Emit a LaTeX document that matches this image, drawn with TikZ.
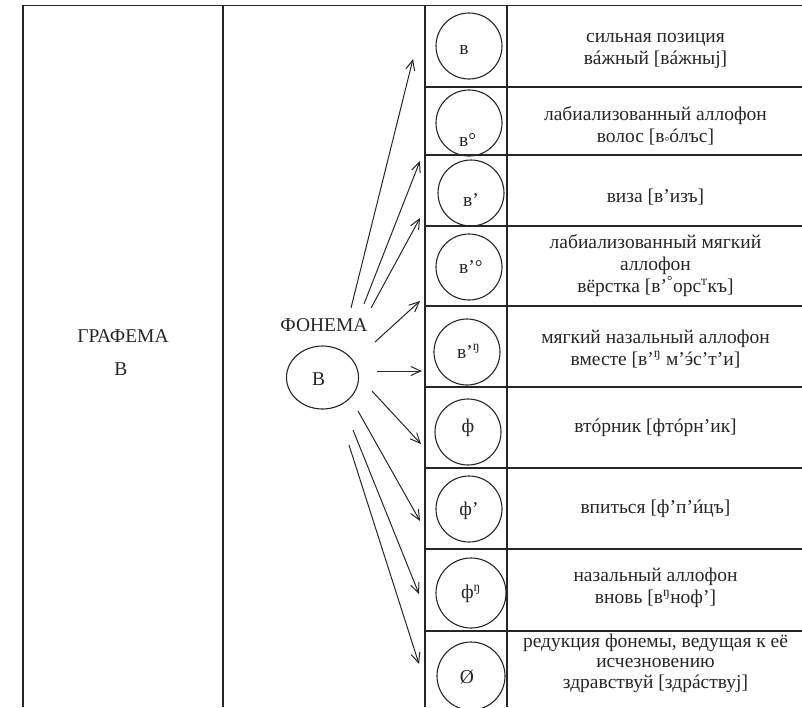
\documentclass[tikz,border=0pt]{standalone}
\usepackage{fontspec}
\setmainfont{Liberation Serif}
\usetikzlibrary{arrows.meta}
\newcommand\acc[1]{\ooalign{#1\cr\hidewidth\kern0.08em´\hidewidth\cr}}
\begin{document}
\begin{tikzpicture}[x=1pt,y=-1pt,
  grid/.style={line width=1.3pt, draw=black!85},
  allo/.style={circle, draw=black!85, line width=1.1pt, minimum size=66pt, inner sep=0pt},
  lab/.style={font=\fontsize{19.5}{22}\selectfont, text=black!85, inner sep=0pt},
  desc/.style={lab, align=center},
  arr/.style={-{Straight Barb[length=10pt,width=9pt]}, line width=1pt, draw=black!85}]
\useasboundingbox (0,0) rectangle (802,707);
% table
\draw[grid, line width=1.7pt] (23,707) -- (23,5.5) -- (802,5.5);
\draw[grid] (223,5.5) -- (223,707);
\draw[grid] (425,5.5) -- (425,707);
\draw[grid] (507,5.5) -- (507,707);
\foreach \y in {87,155,226,306,387,468,549,631} \draw[grid] (425,\y) -- (802,\y);
% grapheme
\node[lab] (gr) at (123,336) {ГРАФЕМА};
\node[lab] (grv) at (121,369) {В};
% phoneme
\node[lab] (ph) at (324,325) {ФОНЕМА};
\draw[line width=1.1pt, draw=black!85] (322.5,377.5) ellipse [x radius=36, y radius=31.5];
\node[lab] (phv) at (318.5,379) {В};
% allophone circles
\node[allo] (c1) at (469,46) {};
\node[allo] (c2) at (469,123) {};
\node[allo] (c3) at (471,193) {};
\node[allo] (c4) at (469,267) {};
\node[allo] (c5) at (467,352) {};
\node[allo] (c6) at (468,432) {};
\node[allo] (c7) at (469,509) {};
\node[allo, minimum size=70pt] (c8) at (471,593) {};
\node[allo, minimum size=68pt] (c9) at (471,676) {};
\node[lab] (l1) at (464,50) {в};
\node[lab, anchor=base west] (l2) at (459,146) {в°};
\node[lab, anchor=base west] (l3) at (463,206) {в’};
\node[lab, anchor=base west] (l4) at (459,273) {в’°};
\node[lab, anchor=base west] (l5) at (457,358) {в’\textsuperscript{ŋ}};
\node[lab] (l6) at (468,428) {ф};
\node[lab] (l7) at (469,511) {ф’};
\node[lab] (l8) at (471,594) {ф\textsuperscript{ŋ}};
\node[lab] (l9) at (467,677) {Ø};
% descriptions
\node[desc] (d1) at (655.5,51) {сильная позиция\\в\acc{а}жный [в\acc{а}жныj]};
\node[desc] (d2) at (655.5,126) {лабиализованный аллофон\\волос [в\raisebox{-2.5pt}{\fontsize{12}{12}\selectfont°}\acc{о}лъс]};
\node[desc] (d3) at (655.5,197) {виза [в’изъ]};
\node[desc] (d4) at (655.5,266) {лабиализованный мягкий\\аллофон\\вёрстка [в’\textsuperscript{°}орс\textsuperscript{т}къ]};
\node[desc] (d5) at (655.5,349) {мягкий назальный аллофон\\вместе [в’\textsuperscript{ŋ} м’\acc{э}с’т’и]};
\node[desc] (d6) at (655.5,428) {вт\acc{о}рник [фт\acc{о}рн’ик]};
\node[desc] (d7) at (655.5,509) {впиться [ф’п’\acc{и}цъ]};
\node[desc] (d8) at (655.5,588) {назальный аллофон\\вновь [в\textsuperscript{ŋ}ноф’]};
\node[desc, font=\fontsize{19.5}{20.5}\selectfont] (d9) at (655.5,663) {редукция фонемы, ведущая к её\\исчезновению\\здравствуй [здр\acc{а}ствуj]};
% arrow end points
\coordinate (s1) at (351,308); \coordinate (e1) at (413,59);
\coordinate (s2) at (364,304); \coordinate (e2) at (420,161);
\coordinate (s3) at (371,308); \coordinate (e3) at (420,218);
\coordinate (s4) at (375,342); \coordinate (e4) at (420,301);
\coordinate (s5) at (377,371); \coordinate (e5) at (422,371);
\coordinate (s6) at (372,391); \coordinate (e6) at (421,444);
\coordinate (s7) at (358,411); \coordinate (e7) at (420,521);
\coordinate (s8) at (353,430); \coordinate (e8) at (419,594);
\coordinate (s9) at (349,445); \coordinate (e9) at (419,664);
\foreach \i in {1,...,9} \draw[arr] (s\i) -- (e\i);
\end{tikzpicture}
\end{document}
